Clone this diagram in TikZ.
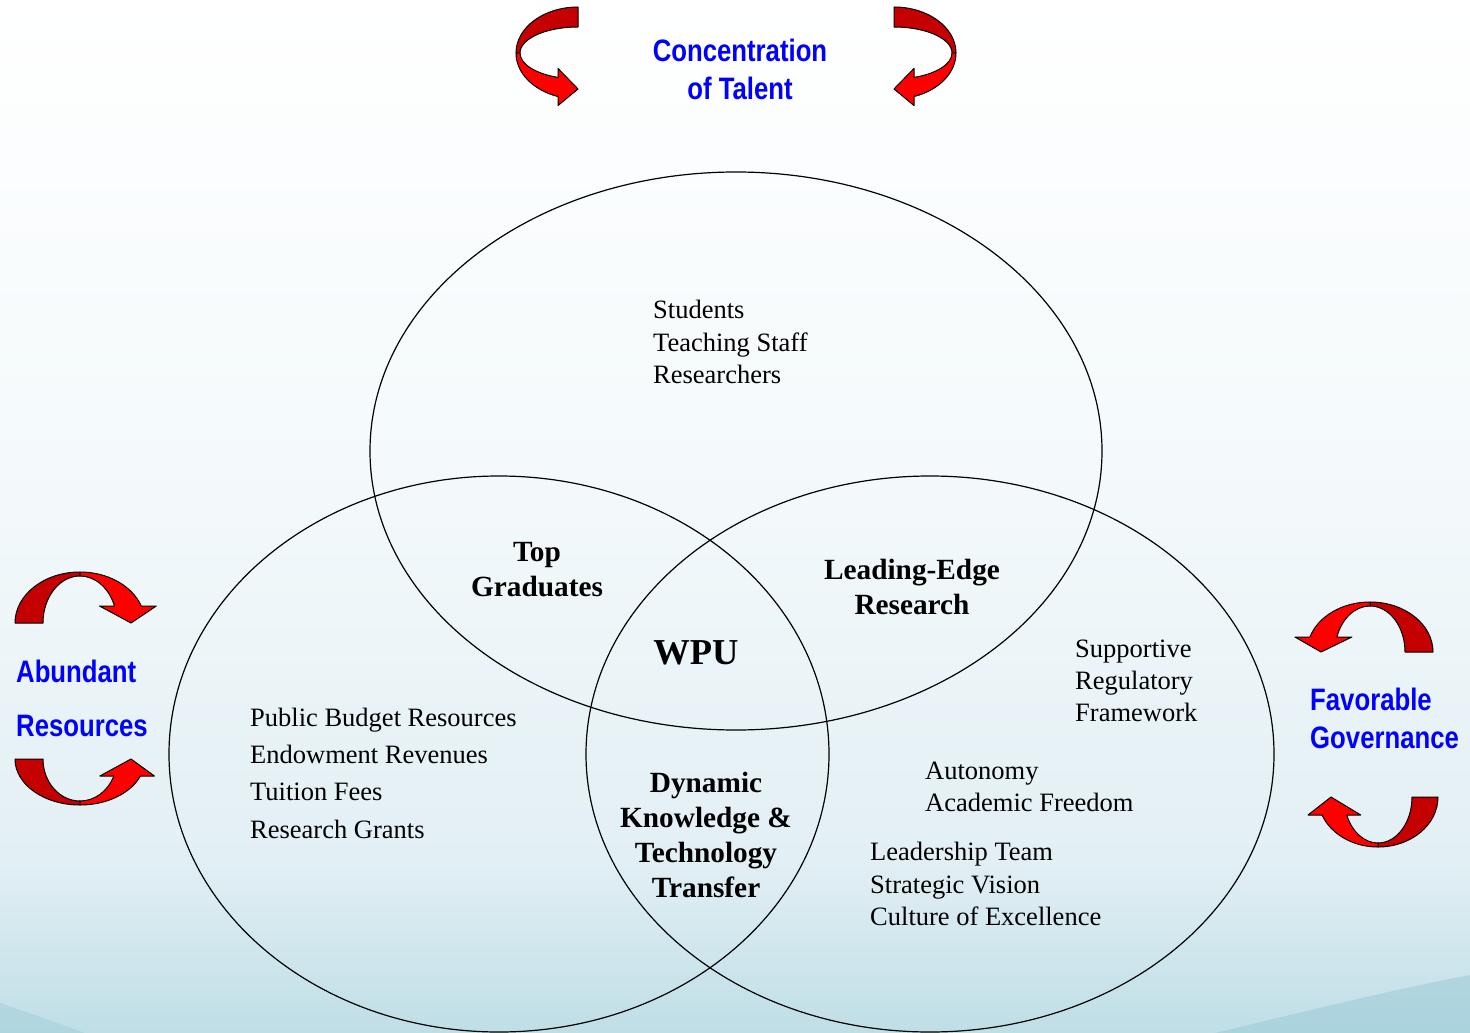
\documentclass[tikz,border=0pt]{standalone}
\usepackage{fontspec}
\setmainfont{Liberation Serif}
\newfontfamily\pillarfont[FakeStretch=0.83]{Liberation Sans}
\usetikzlibrary{positioning}

\definecolor{pillarblue}{RGB}{0,0,255}
\definecolor{ribbondark}{RGB}{196,0,0}
\definecolor{ribbonred}{RGB}{255,0,0}
\definecolor{bgmid}{HTML}{F3F9FB}
\definecolor{bglow}{HTML}{E2EFF4}
\definecolor{bgbottom}{HTML}{BFDEE6}
\definecolor{swoosh}{HTML}{98C9D6}

\tikzset{
  venn/.style={draw=black, line width=1.2pt},
  itemlist/.style={anchor=west, align=left, inner sep=0pt,
    font=\fontsize{26.5}{32.5}\selectfont},
  overlap/.style={align=center, inner sep=0pt,
    font=\fontsize{29.3}{35}\selectfont\bfseries},
  pillar/.style={inner sep=0pt, text=pillarblue,
    font=\pillarfont\bfseries\fontsize{31}{38}\selectfont},
  ribbonback/.style={fill=ribbondark, draw=black, line width=1pt, line join=round},
  ribbonfront/.style={fill=ribbonred, draw=black, line width=1pt, line join=round}
}

% twisted ribbon arrow, tail on top, head at the bottom pointing right
% #1 half length, #2 depth, #3 band width, #4 head length, #5 barb
\newcommand\ribbonarrow[5]{%
  \filldraw[ribbonback] (0,-#1) arc[start angle=270, end angle=180, x radius=#2, y radius=#1]
    -- ({-#2+4},0) arc[start angle=180, end angle=270, x radius={#2-4}, y radius={#1-#3}] -- cycle;
  \filldraw[ribbonfront] (-#2,0) arc[start angle=180, end angle={acos(-#4/#2)}, x radius=#2, y radius=#1]
    -- ++(0,#5) -- (0,{#1-#3/2})
    -- (-#4,{(#1-#3)*sin(acos(-#4/(#2-4)))-#5})
    -- (-#4,{(#1-#3)*sin(acos(-#4/(#2-4)))})
    arc[start angle={acos(-#4/(#2-4))}, end angle=180, x radius={#2-4}, y radius={#1-#3}] -- cycle;
}

\begin{document}
\begin{tikzpicture}[x=1pt, y=-1pt]
  \useasboundingbox (0,0) rectangle (1470,1033);

  % background
  \shade[top color=white, bottom color=bgmid] (0,0) rectangle (1470,501);
  \shade[top color=bgmid, bottom color=bglow] (0,500) rectangle (1470,861);
  \shade[top color=bglow, bottom color=bgbottom] (0,860) rectangle (1470,1033);
  \fill[swoosh, opacity=0.5] (1470,975) .. controls (1390,990) and (1290,1015) .. (1215,1033) -- (1470,1033) -- cycle;
  \fill[swoosh, opacity=0.4] (0,1003) .. controls (30,1013) and (60,1024) .. (85,1033) -- (0,1033) -- cycle;

  % the three circles
  \draw[venn] (736,451) ellipse [x radius=366, y radius=279];
  \draw[venn] (499,754) ellipse [x radius=330, y radius=278];
  \draw[venn] (930,754) ellipse [x radius=344, y radius=278];

  \node[itemlist] (talent) at (653,342) {Students\\Teaching Staff\\Researchers};
  \node[itemlist, font=\fontsize{26.5}{37.3}\selectfont] (funds) at (250,773)
    {Public Budget Resources\\Endowment Revenues\\Tuition Fees\\Research Grants};
  \node[itemlist, font=\fontsize{26.5}{32}\selectfont] (rules) at (1075,681)
    {Supportive\\Regulatory\\Framework};
  \node[itemlist, font=\fontsize{26.5}{32}\selectfont] (autonomy) at (925,787)
    {Autonomy\\Academic Freedom};
  \node[itemlist] (leaders) at (870,884)
    {Leadership Team\\Strategic Vision\\Culture of Excellence};

  \node[overlap] (graduates) at (537,570) {Top\\Graduates};
  \node[overlap] (research) at (912,587) {Leading-Edge\\Research};
  \node[overlap, font=\fontsize{36.5}{40}\selectfont\bfseries] (wpu) at (696,653) {WPU};
  \node[overlap] (transfer) at (706,835) {Dynamic\\Knowledge \&\\Technology\\Transfer};

  \node[pillar, align=center] (concentration) at (740,69) {Concentration\\of Talent};
  \node[pillar, align=left, anchor=west, font=\pillarfont\bfseries\fontsize{31}{54}\selectfont]
    (abundant) at (16,698) {Abundant\\Resources};
  \node[pillar, align=left, anchor=west] (favorable) at (1310,718) {Favorable\\Governance};

  % curved arrows round the three pillars
  \begin{scope}[shift={(578,53)}]
    \ribbonarrow{46}{62}{20}{20}{9}
  \end{scope}
  \begin{scope}[shift={(894,53)}, xscale=-1]
    \ribbonarrow{46}{62}{20}{20}{9}
  \end{scope}
  \begin{scope}[shift={(80,623)}, rotate=90, xscale=-1]
    \ribbonarrow{65}{51}{28}{17}{15}
  \end{scope}
  \begin{scope}[shift={(80,759)}, rotate=90]
    \ribbonarrow{65}{46}{28}{17}{14}
  \end{scope}
  \begin{scope}[shift={(1370,652)}, rotate=-90]
    \ribbonarrow{63}{50}{28}{15}{15}
  \end{scope}
  \begin{scope}[shift={(1378,797)}, rotate=-90, xscale=-1]
    \ribbonarrow{60}{50}{26}{18}{14}
  \end{scope}
\end{tikzpicture}
\end{document}
